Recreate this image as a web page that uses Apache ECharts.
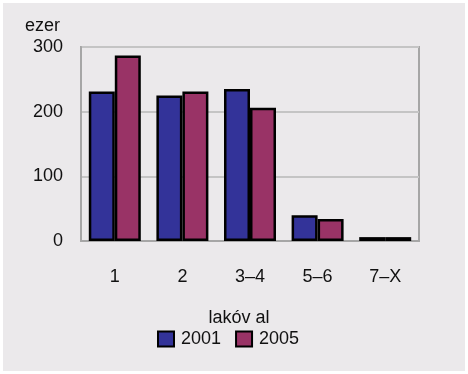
<!DOCTYPE html>
<html>
<head>
<meta charset="utf-8">
<script src="https://cdn.jsdelivr.net/npm/echarts@6/dist/echarts.min.js"></script>
<style>
  html, body { margin: 0; padding: 0; background: #ffffff; }
  #chart { position: absolute; left: 3px; top: 3px; width: 462px; height: 368px; background: #ebe9eb; }
</style>
</head>
<body>
<div id="chart"></div>
<script>
// Households by number of members (thousands)
const categories = ['1', '2', '3–4', '5–6', '7–X'];
const seriesNames = ['2001', '2005'];
const values2001 = [231, 225, 235, 40, 6];
const values2005 = [287, 231, 206, 34, 6];
const yTicks = [0, 100, 200, 300];

const FONT = '"Liberation Sans", Arial, sans-serif';
const TEXT = '#111111';
const colors = ['#333399', '#993366'];

const chart = echarts.init(document.getElementById('chart'), null, { renderer: 'canvas' });

chart.setOption({
  backgroundColor: '#ebe9eb',
  animation: false,
  textStyle: { fontFamily: FONT },
  grid: {
    left: 78, top: 44, width: 338, height: 194,
    show: true, borderColor: '#a6a6a6', borderWidth: 2, backgroundColor: 'transparent'
  },
  legend: {
    data: seriesNames,
    bottom: 18,
    left: 149,
    icon: 'rect',
    itemWidth: 16,
    itemHeight: 15,
    itemGap: 14,
    textStyle: { fontFamily: FONT, fontSize: 18, color: TEXT, padding: [0, 0, 0, 2] }
  },
  xAxis: {
    type: 'category',
    data: categories,
    name: 'lakóv al',
    nameLocation: 'middle',
    nameGap: 68,
    nameTextStyle: { fontFamily: FONT, fontSize: 18, color: TEXT, padding: [0, 22, 0, 0] },
    axisLine: { show: true, lineStyle: { color: '#a6a6a6', width: 2 } },
    axisTick: { show: false },
    axisLabel: { fontFamily: FONT, fontSize: 18, color: TEXT, margin: 27 }
  },
  yAxis: {
    type: 'value',
    min: yTicks[0],
    max: yTicks[yTicks.length - 1],
    interval: 100,
    name: 'ezer',
    nameLocation: 'end',
    nameGap: 12,
    nameTextStyle: { fontFamily: FONT, fontSize: 18, color: TEXT, align: 'right', padding: [0, 21, 0, 0] },
    axisLine: { show: true, lineStyle: { color: '#a6a6a6', width: 2 } },
    axisTick: { show: false },
    axisLabel: { fontFamily: FONT, fontSize: 18, color: TEXT, margin: 18 },
    splitLine: { show: true, lineStyle: { color: '#c4c4c4', width: 2 } }
  },
  series: [
    {
      name: seriesNames[0],
      type: 'bar',
      data: values2001,
      barWidth: 26,
      barGap: '0%',
      itemStyle: { color: colors[0], borderColor: '#000', borderWidth: 2.5 }
    },
    {
      name: seriesNames[1],
      type: 'bar',
      data: values2005,
      barWidth: 26,
      barGap: '0%',
      itemStyle: { color: colors[1], borderColor: '#000', borderWidth: 2.5 }
    }
  ]
});
</script>
</body>
</html>
